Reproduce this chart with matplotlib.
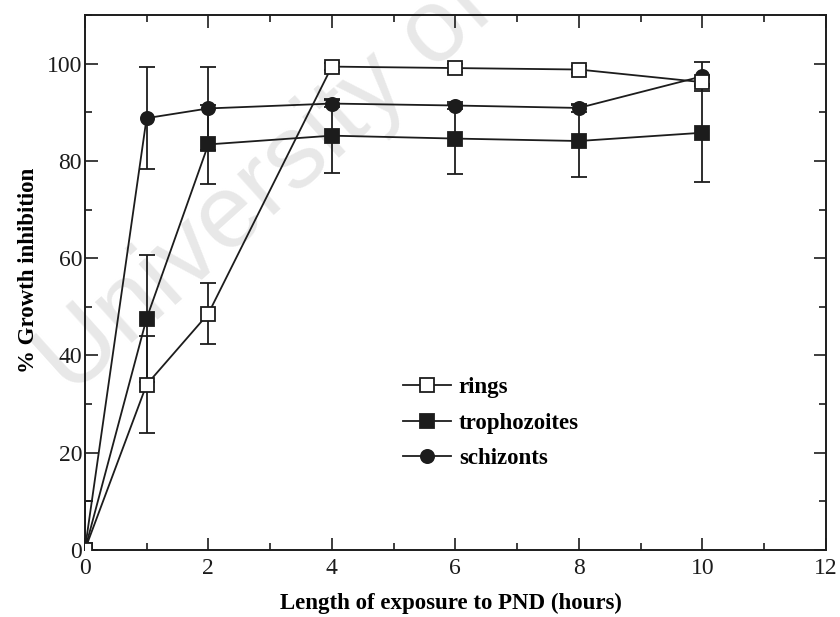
import matplotlib
matplotlib.use("Agg")
import matplotlib.pyplot as plt
from matplotlib.ticker import MultipleLocator

plt.rcParams["font.family"] = ["Liberation Serif", "DejaVu Serif"]

# Exposure time (hours) and % growth inhibition per parasite stage
hours = [0, 1, 2, 4, 6, 8, 10]

rings = [0, 34, 48.6, 99.4, 99.1, 98.8, 96.2]
rings_err = [10, 10, 6.2, 0.8, 0.8, 0.8, 0.8]

trophozoites = [0, 47.6, 83.4, 85.2, 84.6, 84.1, 85.8]
trophozoites_err = [0, 13, 8.2, 7.6, 7.2, 7.4, 10.1]

schizonts = [0, 88.8, 90.8, 91.8, 91.4, 90.9, 97.4]
schizonts_err = [0, 10.5, 8.6, 0.8, 0.8, 0.8, 3]

ink = "#1c1c1c"

fig = plt.figure(figsize=(8.4, 6.17), dpi=100)
ax = fig.add_axes([0.101, 0.1086, 0.882, 0.867])

# watermark, drawn before the axes
fig.text(0.085, 0.355, "University of", fontsize=75, color="#e8e8e8",
         family="Liberation Sans", rotation=42, rotation_mode="anchor",
         ha="left", va="baseline", zorder=-1)

common = dict(color=ink, ecolor=ink, lw=1.3, elinewidth=1.3, capsize=6,
              capthick=1.3, markersize=9.5, markeredgewidth=1.3,
              markeredgecolor=ink)

ax.errorbar(hours, trophozoites, yerr=trophozoites_err, marker="s",
            markerfacecolor=ink, label="trophozoites", zorder=3, **common)
ax.errorbar(hours, schizonts, yerr=schizonts_err, marker="o",
            markerfacecolor=ink, label="schizonts", zorder=4, **common)
ax.errorbar(hours, rings, yerr=rings_err, marker="s",
            markerfacecolor="white", label="rings", zorder=5, **common)

ax.set_xlim(0, 12)
ax.set_ylim(0, 110)
ax.xaxis.set_major_locator(MultipleLocator(2))
ax.xaxis.set_minor_locator(MultipleLocator(1))
ax.yaxis.set_major_locator(MultipleLocator(20))
ax.yaxis.set_minor_locator(MultipleLocator(10))
ax.tick_params(which="both", direction="in", top=True, right=True,
               labelsize=17, colors=ink, width=1.2)
ax.tick_params(which="major", length=9)
ax.tick_params(which="minor", length=5)
ax.tick_params(axis="x", pad=6)
ax.tick_params(axis="y", pad=2)
for s in ax.spines.values():
    s.set_linewidth(1.4)
    s.set_color(ink)
ax.patch.set_alpha(0)

ax.set_xlabel("Length of exposure to PND (hours)", fontsize=16.5,
              fontweight="bold")
ax.set_ylabel("% Growth inhibition", fontsize=16.5, fontweight="bold")
ax.xaxis.set_label_coords(0.494, -0.08)
ax.yaxis.set_label_coords(-0.062, 0.523)

h, l = ax.get_legend_handles_labels()
order = [2, 0, 1]
ax.legend([h[i][0] for i in order], [l[i] for i in order],
          loc="center left", bbox_to_anchor=(0.429, 0.237), frameon=False,
          borderaxespad=0, borderpad=0,
          handlelength=2.1, handletextpad=0.35, labelspacing=0.62,
          prop={"weight": "bold", "size": 16.5})

fig.savefig("out.png", dpi=100)
